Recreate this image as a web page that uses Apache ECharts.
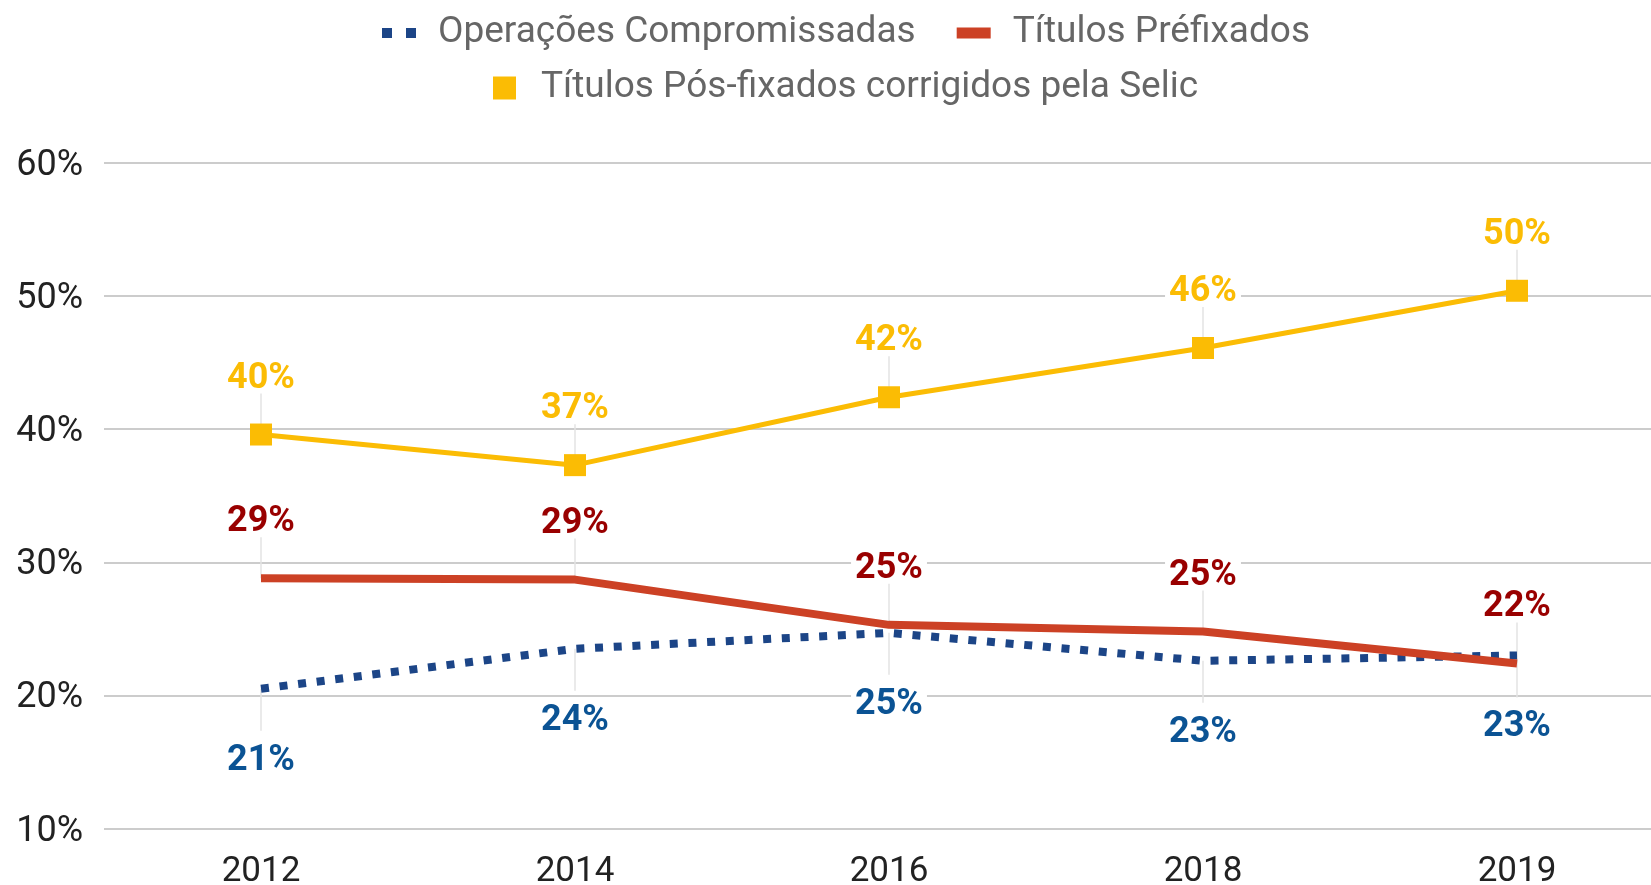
<!DOCTYPE html>
<html>
<head>
<meta charset="utf-8">
<script src="https://cdn.jsdelivr.net/npm/echarts@6/dist/echarts.min.js"></script>
<style>
html,body{margin:0;padding:0;background:#fff;}
#chart{width:1651px;height:885px;}
</style>
</head>
<body>
<div id="chart"></div>
<script>
var categories = ['2012', '2014', '2016', '2018', '2019'];
var seriesNames = ['Operações Compromissadas', 'Títulos Préfixados', 'Títulos Pós-fixados corrigidos pela Selic'];
var compromissadas = [20.5, 23.5, 24.7, 22.6, 23.0];
var prefixados = [28.8, 28.7, 25.3, 24.8, 22.4];
var posfixados = [39.6, 37.3, 42.4, 46.1, 50.4];
var yTicks = [10, 20, 30, 40, 50, 60];

var FONT = 'Roboto';
var Y_MIN = yTicks[0], Y_MAX = yTicks[yTicks.length - 1];
function pct(p) { return Math.round(p.value) + '%'; }

function leaderData(arr, dir) {
  return arr.map(function (v, i) { return [i, v, dir]; });
}
function leaderRender(params, api) {
  var p = api.coord([api.value(0), api.value(1)]);
  var dir = api.value(2);
  return {
    type: 'line',
    shape: { x1: p[0], y1: p[1], x2: p[0], y2: p[1] + dir * 42 },
    style: { stroke: '#e3e3e3', lineWidth: 1.5 }
  };
}

function labelStyle(color, dy) {
  return {
    show: true,
    position: 'inside',
    offset: [0, dy],
    formatter: pct,
    color: color,
    fontFamily: FONT,
    fontWeight: 'bold',
    fontSize: 36,
    lineHeight: 30,
    backgroundColor: '#ffffff',
    padding: [0, 4]
  };
}

var chart = echarts.init(document.getElementById('chart'), null, { renderer: 'canvas' });
chart.setOption({
  animation: false,
  backgroundColor: '#ffffff',
  textStyle: { fontFamily: FONT },
  legend: [{
    left: 377, top: 8,
    itemGap: 41,
    itemWidth: 34, itemHeight: 11,
    textStyle: { fontFamily: FONT, fontSize: 37, color: '#666666', lineHeight: 40, padding: [0, 0, 0, 17] },
    data: [
      { name: seriesNames[0], icon: 'path://M0,0h10v10h-10zM24,0h10v10h-10z' },
      { name: seriesNames[1], icon: 'rect' }
    ]
  }, {
    left: 488, top: 63,
    itemWidth: 23, itemHeight: 23,
    textStyle: { fontFamily: FONT, fontSize: 37, color: '#666666', lineHeight: 40, padding: [0, 0, 0, 20] },
    data: [{ name: seriesNames[2], icon: 'rect' }]
  }],
  grid: [
    { left: 104, right: 0, top: 163, height: 665.5, containLabel: false, outerBoundsMode: 'none' },
    { left: 261, width: 1256, top: 163, height: 665.5, containLabel: false, outerBoundsMode: 'none' }
  ],
  xAxis: [{
    gridIndex: 0, type: 'value', show: false, min: 0, max: 1
  }, {
    gridIndex: 1,
    type: 'category',
    data: categories,
    boundaryGap: false,
    axisLine: { show: false },
    axisTick: { show: false },
    splitLine: { show: false },
    axisLabel: { margin: 26, fontFamily: FONT, fontSize: 35, color: '#222222' }
  }],
  yAxis: [{
    gridIndex: 0,
    type: 'value',
    min: Y_MIN, max: Y_MAX, interval: 10,
    axisLine: { show: false },
    axisTick: { show: false },
    axisLabel: { margin: 21, fontFamily: FONT, fontSize: 36, color: '#222222', formatter: '{value}%', verticalAlign: 'top', lineHeight: 6 },
    splitLine: { lineStyle: { color: '#cccccc', width: 2 } }
  }, {
    gridIndex: 1,
    type: 'value',
    min: Y_MIN, max: Y_MAX, interval: 10,
    show: false,
    splitLine: { show: false }
  }],
  series: [
    {
      type: 'custom', name: 'leaderUp', silent: true, z: 1,
      xAxisIndex: 1, yAxisIndex: 1,
      renderItem: leaderRender,
      data: leaderData(posfixados, -1)
    },
    {
      type: 'custom', name: 'leaderRed', silent: true, z: 1,
      xAxisIndex: 1, yAxisIndex: 1,
      renderItem: leaderRender,
      data: leaderData(prefixados, -1)
    },
    {
      type: 'custom', name: 'leaderBlue', silent: true, z: 1,
      xAxisIndex: 1, yAxisIndex: 1,
      renderItem: leaderRender,
      data: leaderData(compromissadas, 1)
    },
    {
      name: seriesNames[0], type: 'line', z: 3,
      xAxisIndex: 1, yAxisIndex: 1,
      data: compromissadas,
      symbol: 'rect', symbolSize: 0,
      itemStyle: { color: '#1c4587' },
      lineStyle: { color: '#1c4587', width: 8, type: [8, 10.7], cap: 'butt' },
      label: labelStyle('#0b5394', 72)
    },
    {
      name: seriesNames[1], type: 'line', z: 3,
      xAxisIndex: 1, yAxisIndex: 1,
      data: prefixados,
      symbol: 'rect', symbolSize: 0,
      itemStyle: { color: '#cc4125' },
      lineStyle: { color: '#cc4125', width: 8 },
      label: labelStyle('#990000', -56)
    },
    {
      name: seriesNames[2], type: 'line', z: 4,
      xAxisIndex: 1, yAxisIndex: 1,
      data: posfixados,
      symbol: 'rect', symbolSize: 22,
      itemStyle: { color: '#fbbc04' },
      lineStyle: { color: '#fbbc04', width: 5 },
      label: labelStyle('#fbbc04', -56)
    }
  ]
});
</script>
</body>
</html>
